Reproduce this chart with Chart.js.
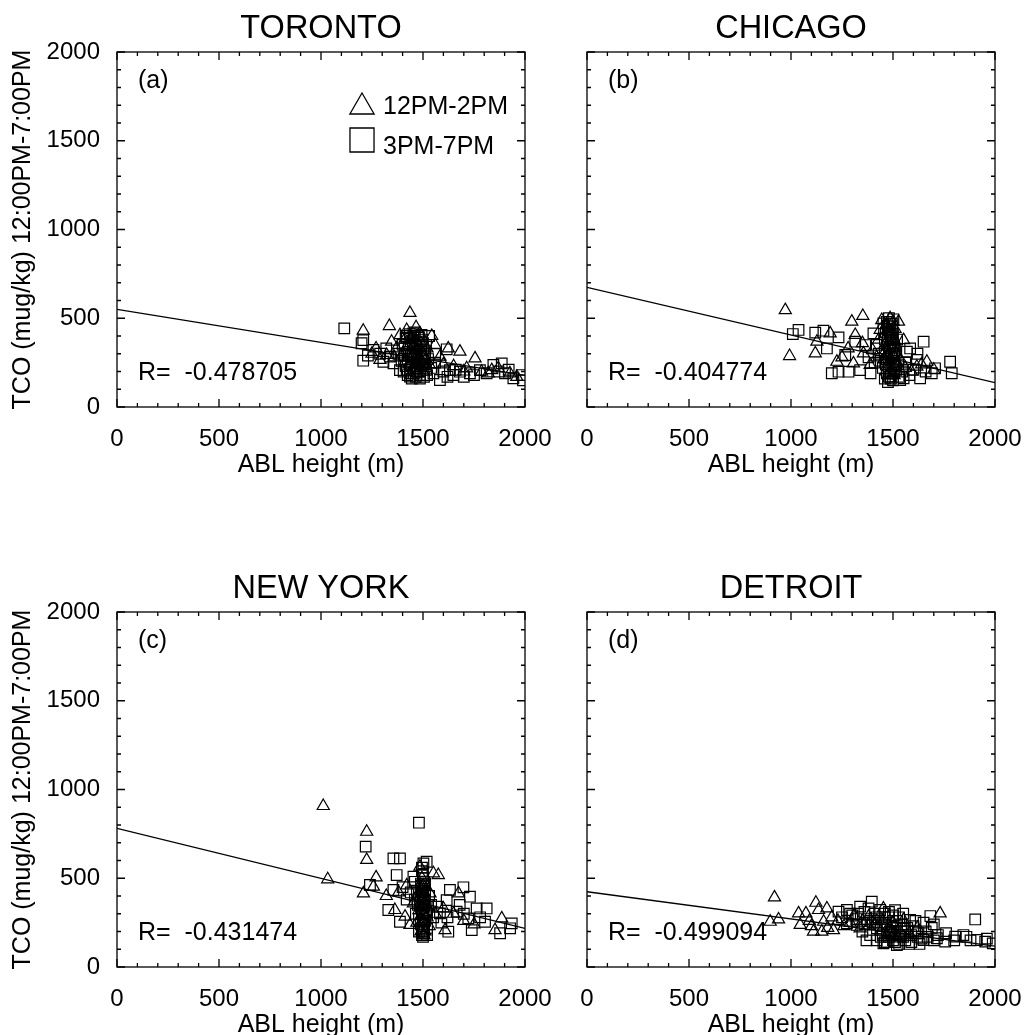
<!DOCTYPE html>
<html>
<head>
<meta charset="utf-8">
<title>TCO vs ABL height</title>
<script src="https://cdn.jsdelivr.net/npm/chart.js@4.4.1/dist/chart.umd.min.js"></script>
<style>
  html, body { margin: 0; padding: 0; background: #fff; overflow: hidden; }
  #wrap { position: relative; width: 1025px; height: 1035px; }
  #wrap canvas { position: absolute; }
</style>
</head>
<body>
<div id="wrap">
  <canvas id="pa" width="570" height="490" style="left:0;top:0"></canvas>
  <canvas id="pb" width="570" height="490" style="left:470px;top:0"></canvas>
  <canvas id="pc" width="570" height="490" style="left:0;top:560px"></canvas>
  <canvas id="pd" width="570" height="490" style="left:470px;top:560px"></canvas>
</div>
<script>
// axis ticks (every 100, labelled every 500)
const axisTicks = [0, 100, 200, 300, 400, 500, 600, 700, 800, 900, 1000,
  1100, 1200, 1300, 1400, 1500, 1600, 1700, 1800, 1900, 2000];
const lineX = [0, 2000];

// TORONTO [ABL height, TCO]
const torontoTri = [[1436,530],[1335,456],[1207,430],[1466,449],[1543,400],[1681,312],[1755,274],[1624,330],[1346,368],[1387,405],[1837,208],[1869,218],[1559,349],[1714,218],[1787,199],[1322,293],[1289,265],[1420,434],[1485,415],[1583,284],[1926,190],
  [1410,380],[1425,350],[1440,320],[1455,300],[1470,370],[1480,340],[1495,310],[1505,280],[1415,260],[1430,240],[1450,220],[1465,250],[1490,230],[1510,260],[1400,300],[1445,395],[1475,290],[1500,200],[1520,330],[1370,330],[1360,280],[1530,240],[1600,240],[1650,230],[1700,200],[1820,190],[1960,170],[1250,300],[1270,330],
  [1430,280],[1460,270],[1480,270],[1450,340],[1470,330],[1490,360],[1435,380],[1420,320],[1500,240],[1455,210],[1475,190],[1440,180],[1515,220]];
const torontoSq = [[1114,443],[1207,377],[1199,359],[1207,261],[1257,321],[1306,255],[1338,284],[1453,415],[1493,406],[1616,325],[1559,250],[1583,152],[1632,208],[1681,199],[1730,190],[1845,237],[1886,246],[1902,190],[1943,162],[1984,180],[1436,171],[1485,180],[1387,208],[1355,246],[1551,190],[1649,180],[1779,208],[1812,190],
  [1420,390],[1440,370],[1460,350],[1480,390],[1500,360],[1410,330],[1430,300],[1450,280],[1470,310],[1490,270],[1510,300],[1415,230],[1435,210],[1455,190],[1475,220],[1495,240],[1515,210],[1425,270],[1445,250],[1465,230],[1485,200],[1505,170],[1395,260],[1400,350],[1380,300],[1525,270],[1540,220],[1560,300],[1600,200],[1620,170],[1660,210],[1700,170],[1750,180],[1870,200],[1920,210],[1990,150],[1290,300],[1320,330],[1230,290],[1530,400],[1460,420],[1500,320],[1520,180],
  [1425,180],[1445,160],[1465,170],[1485,160],[1430,330],[1450,330],[1470,280],[1490,300],[1410,290],[1420,210],[1440,290],[1460,310],[1480,250],[1500,260],[1455,400],[1435,410],[1475,400],[1495,380],[1515,350],[1405,200],[1415,400],[1490,340],[1510,240],[1445,230],[1470,200]];
const torontoLine = [550, 178];

// CHICAGO
const chicagoTri = [[972,546],[993,287],[1119,302],[1127,368],[1192,415],[1298,481],[1352,513],[1315,406],[1225,255],[1306,246],[1355,302],[1486,500],[1527,481],[1666,255],[1552,377],[1437,434],[1388,237],[1617,227],
  [1470,460],[1480,420],[1490,380],[1500,340],[1475,300],[1485,260],[1495,220],[1505,180],[1465,200],[1510,440],[1460,350],[1515,300],[1520,250],[1455,270],[1400,320],[1420,280],[1540,260],[1560,220],[1590,200],[1640,240],[1700,210],[1250,280],[1280,330],[1350,360],[1430,380],[1445,490],[1500,480],
  [1475,440],[1490,350],[1480,290],[1470,230],[1495,180],[1500,300],[1485,400],[1465,320],[1505,380]];
const chicagoSq = [[1009,411],[1037,434],[1119,419],[1159,430],[1233,392],[1176,330],[1266,293],[1200,190],[1233,199],[1282,199],[1339,208],[1315,368],[1364,349],[1404,415],[1453,471],[1502,494],[1650,368],[1584,330],[1552,162],[1633,162],[1706,218],[1780,255],[1788,190],[1617,265],[1568,312],[1486,171],[1535,152],
  [1470,480],[1480,440],[1490,400],[1500,360],[1510,320],[1465,420],[1475,380],[1485,340],[1495,300],[1505,270],[1460,310],[1470,270],[1480,230],[1490,190],[1500,150],[1515,210],[1525,240],[1450,220],[1440,260],[1430,300],[1420,350],[1410,250],[1380,280],[1390,190],[1545,200],[1560,250],[1580,180],[1600,210],[1620,300],[1660,200],[1690,190],[1530,170],[1460,160],[1500,230],[1520,380],[1480,500],[1495,470],
  [1475,460],[1485,420],[1495,380],[1505,340],[1470,350],[1480,320],[1490,280],[1500,250],[1480,170],[1490,160],[1470,190],[1505,200],[1510,230],[1465,240],[1475,140],[1495,430],[1485,470],[1500,410],[1460,380],[1505,290]];
const chicagoLine = [674, 137];

// NEW YORK
const newyorkTri = [[1011,907],[1033,494],[1224,762],[1224,603],[1270,505],[1257,453],[1208,415],[1362,321],[1412,284],[1436,237],[1485,565],[1575,518],[1551,528],[1674,415],[1608,208],[1853,208],[1886,274],[1453,359],[1534,415],
  [1495,500],[1500,460],[1505,420],[1495,380],[1500,340],[1505,300],[1495,260],[1500,220],[1505,180],[1490,440],[1510,350],[1480,320],[1520,280],[1470,400],[1530,230],[1560,300],[1600,330],[1650,300],[1700,260],[1750,240],[1320,400],[1380,420],[1420,460],[1470,250],
  [1500,400],[1500,300],[1495,340],[1505,260],[1490,200],[1510,200],[1500,250],[1495,450],[1505,360]];
const newyorkSq = [[1480,813],[1219,678],[1355,612],[1387,612],[1371,518],[1355,434],[1240,462],[1330,321],[1387,255],[1453,509],[1502,584],[1518,593],[1632,434],[1698,449],[1730,396],[1763,330],[1812,330],[1722,274],[1804,255],[1739,208],[1878,190],[1935,246],[1927,218],[1624,199],[1616,377],[1583,302],[1665,312],
  [1495,560],[1500,520],[1505,480],[1495,440],[1500,400],[1505,360],[1495,320],[1500,280],[1505,240],[1495,200],[1500,170],[1505,190],[1490,470],[1510,430],[1485,350],[1515,310],[1480,270],[1520,220],[1470,430],[1460,380],[1530,400],[1540,350],[1550,280],[1570,340],[1590,250],[1620,280],[1680,350],[1700,300],[1780,280],[1440,420],[1420,380],[1400,450],[1480,200],[1520,180],[1460,480],
  [1495,540],[1500,500],[1505,460],[1495,420],[1500,380],[1505,340],[1495,300],[1500,260],[1505,220],[1495,180],[1500,200],[1490,240],[1510,260],[1490,330],[1510,380],[1490,400],[1510,470],[1500,300],[1500,430],[1500,350],[1480,410],[1520,300],[1475,350],[1525,350],[1465,300]];
const newyorkLine = [781, 218];

// DETROIT
const detroitTri = [[919,392],[898,255],[939,268],[1037,302],[1073,302],[1045,237],[1122,362],[1135,321],[1110,199],[1151,199],[1176,330],[1208,208],[1160,255],[1731,302],[1339,218],[1380,284],[1453,330],[1551,265],
  [1200,280],[1230,260],[1260,230],[1290,250],[1310,290],[1350,260],[1410,240],[1440,200],[1480,230],[1500,180],[1530,210],[1580,190],[1620,220],[1100,230],[1180,220],[1090,260],
  [1450,260],[1500,250],[1420,260],[1380,230],[1470,180],[1520,170]];
const detroitSq = [[1233,312],[1274,321],[1339,340],[1396,368],[1437,321],[1323,237],[1274,246],[1388,180],[1453,133],[1519,124],[1552,218],[1584,265],[1625,190],[1683,287],[1650,152],[1715,162],[1756,143],[1805,171],[1845,180],[1903,268],[1911,152],[1952,143],[1989,133],[1486,190],[1535,171],[1421,218],
  [1250,280],[1300,290],[1330,300],[1360,310],[1380,330],[1410,300],[1430,270],[1460,250],[1480,280],[1500,220],[1520,260],[1540,240],[1560,200],[1600,230],[1620,170],[1660,200],[1690,220],[1720,180],[1760,190],[1800,150],[1860,170],[1880,150],[1960,160],[1420,150],[1440,170],[1470,140],[1500,150],[1530,130],[1560,150],[1590,140],[1630,130],[1400,250],[1350,200],[1320,270],[1290,300],[1370,150],[1460,300],[1510,320],[1550,300],[1610,260],[1650,250],[1700,240],
  [1440,230],[1470,210],[1490,200],[1510,190],[1530,180],[1550,170],[1450,180],[1480,170],[1500,260],[1520,230],[1540,200],[1570,220],[1590,180],[1610,200],[1640,160],[1670,170],[1420,280],[1390,260],[1360,240],[1480,310],[1500,290],[1530,280],[1460,140],[1510,140],[1580,130],[1700,150]];
const detroitLine = [424, 118];

const legendLabels = ['12PM-2PM', '3PM-7PM'];
const FONT = 'Liberation Sans, Arial, sans-serif';

Chart.defaults.font.family = FONT;
Chart.defaults.color = '#000';

const toPts = arr => arr.map(p => ({x: p[0], y: p[1]}));

// box with inward ticks on all four sides
const boxTicks = {
  id: 'boxTicks',
  afterDatasetsDraw(chart) {
    const {ctx, chartArea: a, scales: {x, y}} = chart;
    ctx.save();
    ctx.strokeStyle = '#000';
    ctx.lineWidth = 1.3;
    ctx.strokeRect(a.left, a.top, a.right - a.left, a.bottom - a.top);
    ctx.beginPath();
    axisTicks.forEach(v => {
      const len = v % 500 === 0 ? 8 : 4;
      const px = x.getPixelForValue(v);
      ctx.moveTo(px, a.bottom); ctx.lineTo(px, a.bottom - len);
      ctx.moveTo(px, a.top); ctx.lineTo(px, a.top + len);
      const py = y.getPixelForValue(v);
      ctx.moveTo(a.left, py); ctx.lineTo(a.left + len, py);
      ctx.moveTo(a.right, py); ctx.lineTo(a.right - len, py);
    });
    ctx.stroke();
    ctx.restore();
  }
};

// panel letter, R value and (panel a only) the marker legend
const notes = {
  id: 'notes',
  afterDraw(chart, args, opts) {
    const {ctx, chartArea: a} = chart;
    ctx.save();
    ctx.fillStyle = '#000';
    ctx.font = '25px ' + FONT;
    ctx.textBaseline = 'middle';
    ctx.textAlign = 'left';
    ctx.fillText(opts.letter, a.left + 21, a.top + 29);
    ctx.fillText(opts.rText, a.left + 21, a.bottom - 34);
    if (opts.legend) {
      ctx.strokeStyle = '#000';
      ctx.fillStyle = 'rgba(0,0,0,0)';
      ctx.lineWidth = 1.3;
      Chart.helpers.drawPoint(ctx, {pointStyle: 'triangle', radius: 14, rotation: 0, borderWidth: 1.3}, a.left + 245, a.top + 55);
      Chart.helpers.drawPoint(ctx, {pointStyle: 'rect', radius: 17, rotation: 0, borderWidth: 1.3}, a.left + 245, a.top + 88);
      ctx.fillStyle = '#000';
      ctx.fillText(legendLabels[0], a.left + 266, a.top + 55);
      ctx.fillText(legendLabels[1], a.left + 266, a.top + 95);
    }
    ctx.restore();
  }
};

function makePanel(id, title, letter, rText, tri, sq, lineY, leftAxis, legend) {
  new Chart(document.getElementById(id), {
    type: 'scatter',
    data: {
      datasets: [
        {label: legendLabels[0], data: toPts(tri), pointStyle: 'triangle', pointRadius: 7,
          backgroundColor: 'rgba(0,0,0,0)', borderColor: '#000', borderWidth: 1.2},
        {label: legendLabels[1], data: toPts(sq), pointStyle: 'rect', pointRadius: 7.5,
          backgroundColor: 'rgba(0,0,0,0)', borderColor: '#000', borderWidth: 1.2},
        {label: 'fit', data: lineX.map((x, i) => ({x: x, y: lineY[i]})), showLine: true,
          pointRadius: 0, borderColor: '#000', borderWidth: 1.3}
      ]
    },
    options: {
      responsive: false,
      animation: false,
      layout: {padding: {top: 0, right: 45, bottom: 0, left: 0}},
      plugins: {
        legend: {display: false},
        tooltip: {enabled: false},
        title: {display: true, text: title, fullSize: false, color: '#000',
          font: {size: 32.5, weight: 'normal'}, padding: {top: 10, bottom: 3}},
        notes: {letter: letter, rText: rText, legend: legend}
      },
      scales: {
        x: {
          type: 'linear', min: 0, max: 2000,
          grid: {display: false}, border: {display: false},
          ticks: {stepSize: 500, autoSkip: false, maxRotation: 0, padding: 10, color: '#000', font: {size: 24},
            callback: v => String(v)},
          title: {display: true, text: 'ABL height (m)', color: '#000', font: {size: 25}, padding: {top: 0, bottom: 10}},
          afterFit(s) { s.height = 83; }
        },
        y: {
          type: 'linear', min: 0, max: 2000,
          grid: {display: false}, border: {display: false},
          ticks: {display: leftAxis, stepSize: 500, padding: 9, color: '#000', font: {size: 24},
            callback: v => String(v)},
          title: {display: leftAxis, text: 'TCO (mug/kg) 12:00PM-7:00PM', color: '#000', font: {size: 25}, padding: {top: 8, bottom: 0}},
          afterFit(s) { s.width = 117; }
        }
      }
    },
    plugins: [boxTicks, notes]
  });
}

makePanel('pa', 'TORONTO', '(a)', 'R=  -0.478705', torontoTri, torontoSq, torontoLine, true, true);
makePanel('pb', 'CHICAGO', '(b)', 'R=  -0.404774', chicagoTri, chicagoSq, chicagoLine, false, false);
makePanel('pc', 'NEW YORK', '(c)', 'R=  -0.431474', newyorkTri, newyorkSq, newyorkLine, true, false);
makePanel('pd', 'DETROIT', '(d)', 'R=  -0.499094', detroitTri, detroitSq, detroitLine, false, false);
</script>
</body>
</html>
